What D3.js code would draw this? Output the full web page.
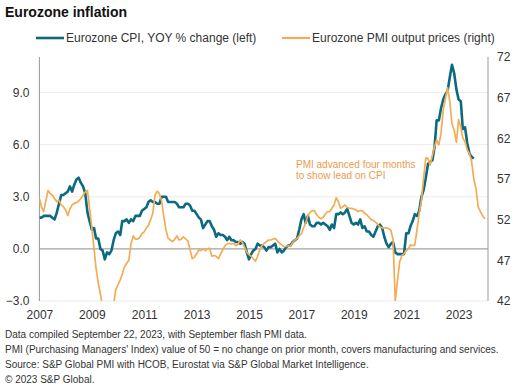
<!DOCTYPE html>
<html lang="en">
<head>
<meta charset="UTF-8" />
<title>Eurozone inflation</title>
<script src="https://d3js.org/d3.v7.min.js"></script>
<style>
  body { margin: 0; background: #fff; font-family: Arial, "Liberation Sans", sans-serif; }
  svg text { fill: #333; }
  .grid line { stroke: #ececec; stroke-width: 1px; }
  .foot { font-size: 10px; fill: #333; }
</style>
</head>
<body>
<div id="chart"></div>
<script>
// monthly, plotted from Jan 2007
const yearTicks = [2007, 2009, 2011, 2013, 2015, 2017, 2019, 2021, 2023];
const leftTicks = [-3, 0, 3, 6, 9];
const rightTicks = [42, 47, 52, 57, 62, 67, 72];

// Eurozone CPI, YOY % change (Jan 2007 - Aug 2023)
const cpi = [
  1.8, 1.8, 1.9, 1.9, 1.9, 1.9, 1.8, 1.7, 2.1, 2.6, 3.1, 3.1,
  3.2, 3.3, 3.6, 3.3, 3.7, 4.0, 4.1, 3.8, 3.6, 3.2, 2.1, 1.6,
  1.1, 1.2, 0.6, 0.6, 0.0, -0.1, -0.6, -0.2, -0.3, -0.1, 0.5, 0.9,
  1.0, 0.8, 1.6, 1.6, 1.7, 1.5, 1.7, 1.6, 1.9, 1.9, 1.9, 2.2,
  2.3, 2.4, 2.7, 2.8, 2.7, 2.7, 2.6, 2.6, 3.0, 3.0, 3.0, 2.7,
  2.7, 2.7, 2.7, 2.6, 2.4, 2.4, 2.4, 2.6, 2.6, 2.5, 2.2, 2.2,
  2.0, 1.8, 1.7, 1.2, 1.4, 1.6, 1.6, 1.3, 1.1, 0.7, 0.9, 0.8,
  0.8, 0.7, 0.5, 0.7, 0.5, 0.5, 0.4, 0.4, 0.3, 0.4, 0.3, -0.2,
  -0.6, -0.3, -0.1, 0.0, 0.3, 0.2, 0.2, 0.1, -0.1, 0.1, 0.1, 0.2,
  0.3, -0.2, 0.0, -0.2, -0.1, 0.1, 0.2, 0.2, 0.4, 0.5, 0.6, 1.1,
  1.7, 2.0, 1.5, 1.9, 1.4, 1.3, 1.3, 1.5, 1.5, 1.4, 1.5, 1.4,
  1.3, 1.1, 1.4, 1.2, 2.0, 2.0, 2.1, 2.0, 2.1, 2.3, 1.9, 1.5,
  1.4, 1.5, 1.4, 1.7, 1.2, 1.3, 1.0, 1.0, 0.8, 0.7, 1.0, 1.3,
  1.4, 1.2, 0.7, 0.3, 0.1, 0.3, 0.4, -0.2, -0.3, -0.3, -0.3, -0.3,
  0.9, 0.9, 1.3, 1.6, 2.0, 1.9, 2.2, 3.0, 3.4, 4.1, 4.9, 5.0,
  5.1, 5.9, 7.4, 7.4, 8.1, 8.6, 8.9, 9.1, 9.9, 10.6, 10.1, 9.2,
  8.6, 8.5, 6.9, 7.0, 6.1, 5.5, 5.3, 5.2
];

// Eurozone PMI output prices, advanced four months (plotted Jan 2007 - Jan 2024)
const pmi = [
  54.6, 53.5, 53.0, 54.3, 55.6, 55.2, 55.0, 54.6, 54.2, 54.4, 53.8, 53.6,
  53.2, 52.5, 53.3, 53.8, 54.0, 54.1, 54.3, 54.6, 55.0, 55.4, 55.6, 53.4,
  51.0, 48.4, 46.0, 44.2, 42.8, 41.3, 40.6, 40.2, 40.4, 40.8, 41.6, 43.4,
  44.0, 44.6, 45.3, 46.2, 46.6, 47.0, 49.0, 50.0, 49.6, 49.6, 49.8, 50.3,
  50.5, 51.0, 51.3, 52.0, 52.8, 55.0, 55.5, 55.2, 54.3, 52.4, 50.7, 49.7,
  49.5, 49.3, 49.6, 50.0, 49.5, 49.6, 49.9, 49.6, 49.4, 48.3, 47.2, 47.4,
  47.8, 48.3, 48.2, 48.4, 48.2, 48.4, 48.5, 47.5, 47.6, 47.5, 47.2, 47.8,
  48.3, 48.8, 49.0, 49.1, 49.0, 49.1, 48.8, 49.0, 49.5, 49.2, 48.6, 48.0,
  47.7, 47.5, 47.2, 46.9, 47.5, 48.3, 48.8, 49.1, 49.3, 49.5, 49.5, 49.6,
  49.7, 49.4, 49.1, 48.9, 48.7, 48.7, 48.8, 48.7, 49.2, 49.5, 49.7, 50.0,
  50.3, 51.0, 51.6, 52.5, 52.9, 53.1, 53.1, 52.6, 52.3, 52.1, 52.3, 52.7,
  53.0, 53.0, 53.4, 53.8, 54.7, 54.2, 53.4, 53.6, 53.8, 53.5, 53.4, 53.4,
  53.3, 53.2, 53.0, 53.1, 53.1, 52.8, 52.6, 52.3, 52.0, 51.9, 51.7, 51.4,
  51.1, 51.0, 51.0, 51.0, 50.9, 50.7, 49.6, 42.0, 44.5, 46.8, 47.6, 47.8,
  48.2, 48.4, 48.9, 48.8, 48.9, 50.8, 52.8, 54.4, 57.2, 59.6, 59.5, 58.7,
  59.9, 61.0, 61.8, 61.2, 62.6, 65.5, 66.9, 68.2, 66.5, 63.8, 63.0, 61.5,
  64.3, 63.4, 62.0, 61.6, 60.6, 60.1, 59.2, 57.0, 55.8, 53.6, 53.0, 52.5,
  52.1
];

const footnotes = [
  'Data compiled September 22, 2023, with September flash PMI data.',
  "PMI (Purchasing Managers' Index) value of 50 = no change on prior month, covers manufacturing and services.",
  'Source: S&P Global PMI with HCOB, Eurostat via S&P Global Market Intelligence.',
  '\u00a9 2023 S&P Global.'
];

const W = 517, H = 388;
const plot = { left: 39.4, right: 488, top: 57, bottom: 301 };
const blue = '#0c6a80', orange = '#f3ac55';

const monthDate = (i) => new Date(2007, i, 1);

const svg = d3.select('#chart').append('svg')
  .attr('width', W).attr('height', H);

const x = d3.scaleTime()
  .domain([new Date(2007, 0, 1), new Date(2024, 1, 15)])
  .range([plot.left, plot.right]);
const yL = d3.scaleLinear().domain([-3, 11.05]).range([plot.bottom, plot.top]);
const yR = d3.scaleLinear().domain([42, 72]).range([plot.bottom, plot.top]);

// title
svg.append('text')
  .attr('x', 5).attr('y', 17)
  .style('font-size', '14px').style('font-weight', 'bold')
  .style('fill', '#111')
  .text('Eurozone inflation');

// legend
const legend = [
  { label: 'Eurozone CPI, YOY % change (left)', color: blue, x: 36, w: 2.6 },
  { label: 'Eurozone PMI output prices (right)', color: orange, x: 282, w: 2.2 }
];
legend.forEach((d) => {
  svg.append('line')
    .attr('x1', d.x).attr('x2', d.x + 28)
    .attr('y1', 38).attr('y2', 38)
    .attr('stroke', d.color).attr('stroke-width', d.w);
  svg.append('text')
    .attr('x', d.x + 30).attr('y', 42)
    .style('font-size', '12px')
    .text(d.label);
});

// gridlines
svg.append('g').attr('class', 'grid')
  .selectAll('line')
  .data(leftTicks.filter((t) => t !== 0))
  .enter().append('line')
  .attr('x1', plot.left).attr('x2', plot.right)
  .attr('y1', (d) => yL(d)).attr('y2', (d) => yL(d));

// zero line
svg.append('line')
  .attr('x1', plot.left).attr('x2', plot.right)
  .attr('y1', yL(0)).attr('y2', yL(0))
  .attr('stroke', '#8c8c8c').attr('stroke-width', 1);

// axes
const axisL = svg.append('g')
  .attr('transform', `translate(${plot.left},0)`)
  .call(d3.axisLeft(yL).tickValues(leftTicks).tickSize(0).tickPadding(10)
    .tickFormat(d3.format('.1f')));
const axisR = svg.append('g')
  .attr('transform', `translate(${plot.right},0)`)
  .call(d3.axisRight(yR).tickValues(rightTicks).tickSize(0).tickPadding(9));
[axisL, axisR].forEach((g) => {
  g.select('.domain').attr('stroke', '#999').attr('d', null);
  g.selectAll('text').style('font-size', '12px').style('fill', '#333')
    .attr('font-family', null);
});
svg.append('line')
  .attr('x1', plot.left).attr('x2', plot.left)
  .attr('y1', plot.top).attr('y2', plot.bottom)
  .attr('stroke', '#999');
svg.append('line')
  .attr('x1', plot.right).attr('x2', plot.right)
  .attr('y1', plot.top).attr('y2', plot.bottom)
  .attr('stroke', '#999');

const axisB = svg.append('g')
  .attr('transform', `translate(0,${plot.bottom})`)
  .call(d3.axisBottom(x)
    .tickValues(yearTicks.map((y) => new Date(y, 0, 1)))
    .tickSize(0).tickPadding(9)
    .tickFormat(d3.timeFormat('%Y')));
axisB.select('.domain').remove();
axisB.selectAll('text').style('font-size', '12px').style('fill', '#333')
  .attr('font-family', null);

// clip to plot area
svg.append('clipPath').attr('id', 'clip')
  .append('rect')
  .attr('x', plot.left).attr('y', plot.top)
  .attr('width', plot.right - plot.left)
  .attr('height', plot.bottom - plot.top);

const lineL = d3.line()
  .x((d, i) => x(monthDate(i)))
  .y((d) => yL(d));
const lineR = d3.line()
  .x((d, i) => x(monthDate(i)))
  .y((d) => yR(d));

svg.append('path')
  .datum(cpi)
  .attr('clip-path', 'url(#clip)')
  .attr('fill', 'none')
  .attr('stroke', blue)
  .attr('stroke-width', 2.6)
  .attr('stroke-linejoin', 'round')
  .attr('d', lineL);

svg.append('path')
  .datum(pmi)
  .attr('clip-path', 'url(#clip)')
  .attr('fill', 'none')
  .attr('stroke', orange)
  .attr('stroke-width', 1.7)
  .attr('stroke-linejoin', 'round')
  .attr('d', lineR);

// annotation
const note = svg.append('text')
  .attr('x', 296).attr('y', 168)
  .style('font-size', '10px')
  .style('fill', '#ee9a4d');
note.append('tspan').attr('x', 296).text('PMI advanced four months');
note.append('tspan').attr('x', 296).attr('dy', 10.5).text('to show lead on CPI');

// footnotes
svg.selectAll('.foot')
  .data(footnotes)
  .enter().append('text')
  .attr('class', 'foot')
  .attr('x', 5)
  .attr('y', (d, i) => 338 + i * 15)
  .text((d) => d);
</script>
</body>
</html>
